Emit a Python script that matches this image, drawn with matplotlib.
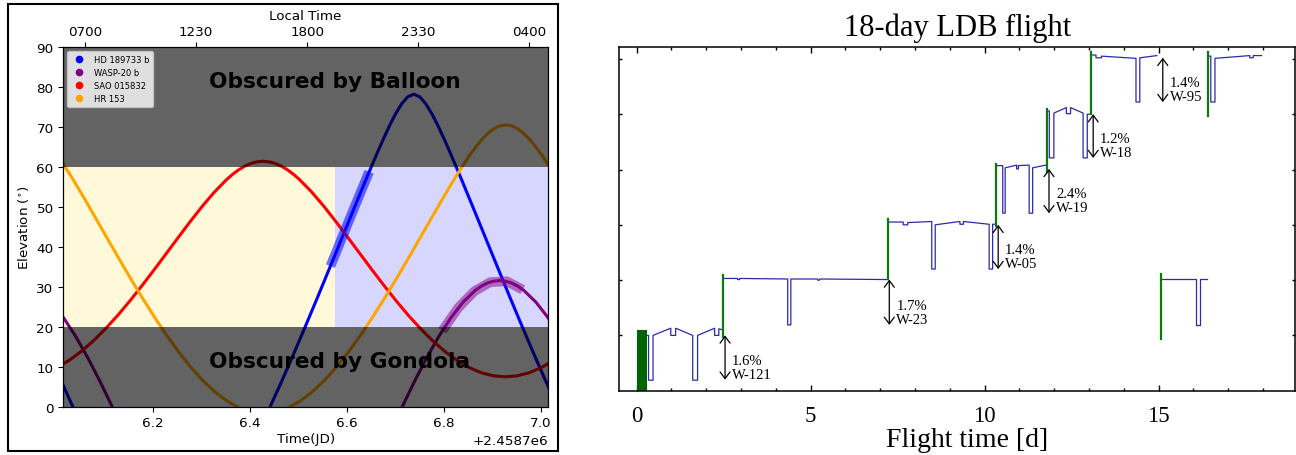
import numpy as np
import matplotlib
matplotlib.use('Agg')
import matplotlib.pyplot as plt
from matplotlib.patches import Rectangle
from matplotlib.lines import Line2D

# ======================= LEFT PANEL DATA =======================
JD0 = 2458700.0
xlim_left = (6.0147, 7.0151)          # JD - 2458700
sample_step = 0.025                    # days between read-off samples
sunset = 6.5755                        # day / night boundary (JD - 2458700)
nan = np.nan

star_names = ['HD 189733 b', 'WASP-20 b', 'SAO 015832', 'HR 153']
star_colors = ['blue', 'purple', 'red', 'orange']

hd189733_start = 5.988
hd189733_elev = [12.62, 5.71, -0.95, -7.28] + [nan] * 13 + [
    -7.28, -0.95, 5.71, 12.62, 19.73, 26.97, 34.32, 41.73, 49.14, 56.49, 63.65,
    70.36, 75.83, 78.24, 75.83, 70.36, 63.65, 56.49, 49.14, 41.73, 34.32, 26.97,
    19.73, 12.62, 5.71, -0.95]
hd189733_extra_t = [6.6505, 6.6755, 6.7005, 6.7255, 6.7505, 6.7755, 6.8005, 6.8255]
hd189733_extra_el = [60.10, 67.09, 73.33, 77.60, 77.60, 73.33, 67.09, 60.10]

wasp20_start = 5.990
wasp20_elev = [26.21, 22.33, 17.65, 12.31, 6.45, 0.18, -6.42, -13.28] + [nan] * 19 + [
    -13.28, -6.42, 0.18, 6.45, 12.31, 17.65, 22.33, 26.21, 29.14, 30.97, 31.59,
    30.97, 29.14, 26.21, 22.33, 17.65]
wasp20_extra_t = [6.8775, 6.9025, 6.9275, 6.9525]
wasp20_extra_el = [30.20, 31.43, 31.43, 30.20]

sao015832_start = 6.002
sao015832_elev = [9.83, 11.63, 13.86, 16.52, 19.54, 22.86, 26.47, 30.29, 34.25,
                  38.32, 42.39, 46.41, 50.26, 53.81, 56.91, 59.35, 60.93, 61.47,
                  60.93, 59.35, 56.91, 53.81, 50.26, 46.41, 42.39, 38.32, 34.25,
                  30.29, 26.47, 22.86, 19.54, 16.52, 13.86, 11.63, 9.83, 8.53,
                  7.74, 7.47, 7.74, 8.53, 9.83, 11.63]
sao015832_extra_t = [6.3645, 6.3895, 6.4145, 6.4395, 6.4645, 6.4895]
sao015832_extra_el = [58.23, 60.26, 61.32, 61.32, 60.26, 58.23]

hr153_start = 6.003
hr153_elev = [62.88, 58.25, 53.21, 47.97, 42.67, 37.40, 32.22, 27.21, 22.41, 17.88,
              13.69, 9.88, 6.52, 3.68, 1.39, -0.28, -1.30, -1.64, -1.30, -0.28,
              1.39, 3.68, 6.52, 9.88, 13.69, 17.88, 22.41, 27.21, 32.22, 37.40,
              42.67, 47.97, 53.21, 58.25, 62.88, 66.84, 69.57, 70.57, 69.57, 66.84,
              62.88, 58.25]
hr153_extra_t = [6.8655, 6.8905, 6.9155, 6.9405, 6.9655, 6.9905]
hr153_extra_el = [64.97, 68.38, 70.32, 70.32, 68.38, 64.97]

hd_transit_t = [6.566, 6.586, 6.606, 6.626, 6.646]
hd_transit_el = [35.2, 41.15, 47.08, 52.99, 58.83]
wasp_transit_t = [6.797, 6.830, 6.863, 6.896, 6.930, 6.963]
wasp_transit_el = [19.0, 24.8, 28.9, 31.2, 31.4, 29.3]

local_tick_pos = [6.0597, 6.2889, 6.5181, 6.7473, 6.9765]
local_tick_labels = ['0700', '1230', '1800', '2330', '0400']

# ======================= RIGHT PANEL DATA =======================
first_green = (0.0, 0.30, 1.10)   # start, end, height
green_x = [2.47, 7.21, 10.34, 11.78, 13.05, 15.06, 16.42]
green_lo = [0.97, 2.02, 2.98, 3.96, 5.00, 0.93, 4.96]
green_hi = [2.09, 3.10, 4.10, 5.10, 6.12, 2.11, 6.12]

seg_times = [
    [0.30, 0.34, 0.34, 0.47, 0.47, 0.98, 0.98, 1.12, 1.12, 1.61, 1.61, 1.75, 1.75,
     2.24, 2.24, 2.36, 2.36, 2.47],
    [2.49, 2.90, 2.90, 2.96, 2.96, 4.34, 4.34, 4.43, 4.43, 5.20, 5.20, 5.26, 5.26, 7.21],
    [7.23, 7.66, 7.66, 7.79, 7.79, 8.48, 8.48, 8.58, 8.58, 9.29, 9.29, 9.39, 9.39,
     10.13, 10.13, 10.23, 10.23, 10.32],
    [10.36, 10.52, 10.52, 10.59, 10.59, 10.92, 10.92, 10.97, 10.97, 11.28, 11.28,
     11.38, 11.38, 11.76],
    [11.80, 11.86, 11.86, 11.99, 11.99, 12.35, 12.35, 12.47, 12.47, 12.83, 12.83,
     12.95, 12.95, 13.03],
    [13.08, 13.20, 13.20, 13.36, 13.36, 14.35, 14.35, 14.46, 14.46, 14.95],
    [16.45, 16.50, 16.50, 16.62, 16.62, 17.62, 17.62, 17.72, 17.72, 17.96],
    [15.09, 16.07, 16.07, 16.19, 16.19, 16.38],
]
seg_flux = [
    [1.00, 1.00, 0.19, 0.19, 1.00, 1.13, 1.00, 1.00, 1.13, 1.00, 0.19, 0.19, 1.00,
     1.13, 1.00, 1.00, 1.12, 1.10],
    [2.03, 2.03, 2.01, 2.01, 2.03, 2.02, 1.19, 1.19, 2.02, 2.02, 2.00, 2.00, 2.02, 2.01],
    [3.05, 3.05, 3.00, 3.00, 3.04, 3.06, 2.20, 2.20, 3.00, 3.06, 3.01, 3.01, 3.06,
     3.01, 2.20, 2.20, 3.01, 3.01],
    [4.07, 4.07, 3.21, 3.21, 4.03, 4.08, 4.01, 4.01, 4.07, 4.08, 3.21, 3.21, 4.03, 4.08],
    [5.06, 5.06, 4.21, 4.21, 5.02, 5.12, 5.01, 5.01, 5.12, 5.02, 4.21, 4.21, 5.00, 5.00],
    [6.07, 6.07, 6.02, 6.02, 6.05, 6.01, 5.22, 5.22, 6.02, 6.06],
    [6.05, 6.05, 5.22, 5.22, 6.01, 6.06, 6.02, 6.02, 6.06, 6.06],
    [2.02, 2.02, 1.19, 1.19, 2.02, 2.02],
]

arrow_x = [2.54, 7.26, 10.39, 11.85, 13.12, 15.12]
arrow_top = [1.00, 2.01, 3.00, 4.01, 5.00, 6.02]
arrow_bottom = [0.20, 1.19, 2.20, 3.21, 4.21, 5.22]
depth_labels = ['1.6%', '1.7%', '1.4%', '2.4%', '1.2%', '1.4%']
planet_labels = ['W-121', 'W-23', 'W-05', 'W-19', 'W-18', 'W-95']

# ======================= FIGURE =======================
fig = plt.figure(figsize=(12.96, 4.56), dpi=100)

# frame around the left panel
fig.add_artist(Rectangle((8 / 1296, 1 - 452 / 456), 550 / 1296, 447.5 / 456,
                         transform=fig.transFigure, fill=False, ec='black', lw=1.5))

axL = fig.add_axes([0.04884, 0.10592, 0.37400, 0.78816])
fs = 9.7

x0, x1 = JD0 + xlim_left[0], JD0 + xlim_left[1]
axL.fill_between([x0, JD0 + sunset], 20, 60, color='gold', alpha=0.15, lw=0, zorder=0)
axL.fill_between([JD0 + sunset, x1], 20, 60, color='blue', alpha=0.16, lw=0, zorder=0)

series = [(hd189733_start, hd189733_elev, hd189733_extra_t, hd189733_extra_el),
          (wasp20_start, wasp20_elev, wasp20_extra_t, wasp20_extra_el),
          (sao015832_start, sao015832_elev, sao015832_extra_t, sao015832_extra_el),
          (hr153_start, hr153_elev, hr153_extra_t, hr153_extra_el)]
for (start, elev, et, ee), col in zip(series, star_colors):
    t = start + sample_step * np.arange(len(elev))
    tt = np.concatenate([t, et])
    yy = np.concatenate([np.array(elev, float), ee])
    order = np.argsort(tt, kind='stable')
    axL.plot(JD0 + tt[order], yy[order], color=col, lw=2.2, zorder=2)

axL.plot(JD0 + np.array(hd_transit_t), hd_transit_el, color='blue', alpha=0.55,
         lw=7, solid_capstyle='butt', zorder=2.5)
axL.plot(JD0 + np.array(wasp_transit_t), wasp_transit_el, color='purple', alpha=0.5,
         lw=7, solid_capstyle='butt', zorder=2.5)

axL.axhspan(0, 20, color='black', alpha=0.61, lw=0, zorder=3)
axL.axhspan(60, 90, color='black', alpha=0.61, lw=0, zorder=3)
axL.axhline(0, color='#1f77b4', lw=1.0, zorder=3.5)

axL.text(JD0 + 6.315, 80, 'Obscured by Balloon', fontsize=15.6, fontweight='bold',
         ha='left', va='baseline', zorder=4)
axL.text(JD0 + 6.315, 10, 'Obscured by Gondola', fontsize=15.6, fontweight='bold',
         ha='left', va='baseline', zorder=4)

axL.set_xlim(x0, x1)
axL.set_ylim(0, 90)
axL.set_yticks(range(0, 91, 10))
axL.tick_params(labelsize=fs)
axL.xaxis.get_offset_text().set_fontsize(fs)
axL.set_xlabel('Time(JD)', fontsize=fs, labelpad=2)
axL.set_ylabel(r'Elevation ($^{\circ}$)', fontsize=fs)

handles = [Line2D([], [], marker='o', ls='none', color=c, ms=4.5) for c in star_colors]
leg = axL.legend(handles, star_names, loc='upper left', fontsize=6)
leg.set_zorder(5)

axT = axL.twiny()
axT.set_xlim(x0, x1)
axT.set_xticks([JD0 + v for v in local_tick_pos])
axT.set_xticklabels(local_tick_labels)
axT.tick_params(labelsize=fs)
axT.set_xlabel('Local Time', fontsize=fs)

# ---------------- right panel ----------------
serif = 'Liberation Serif'
axR = fig.add_axes([0.47785, 0.14101, 0.52137, 0.75307])
blue_lc = '#2b2baa'
green_c = '#0a7a0a'

axR.fill_between([first_green[0], first_green[1]], 0, first_green[2],
                 color='#006400', lw=0, zorder=2)
for gx, lo, hi in zip(green_x, green_lo, green_hi):
    axR.plot([gx, gx], [lo, hi], color=green_c, lw=1.6, zorder=3)
for t, f in zip(seg_times, seg_flux):
    axR.plot(t, f, color=blue_lc, lw=0.9, zorder=2)

for ax_, top, bot, d, p in zip(arrow_x, arrow_top, arrow_bottom, depth_labels, planet_labels):
    axR.annotate('', xy=(ax_, bot), xytext=(ax_, top),
                 arrowprops=dict(arrowstyle='<->,head_length=0.4,head_width=0.3',
                                 lw=0.9, color='black', shrinkA=0, shrinkB=0,
                                 mutation_scale=12))
    axR.annotate(d + '\n' + p, xy=(ax_, bot), xytext=(5, 9), textcoords='offset points',
                 ha='left', va='center', fontsize=10.5, family=serif, linespacing=1.1)

axR.set_xlim(-0.5, 18.92)
axR.set_ylim(0, 6.21)
axR.set_xticks([0, 5, 10, 15])
axR.set_xticklabels(['0', '5', '10', '15'], fontfamily=serif, fontsize=16.5)
axR.set_xticks(np.arange(0, 19, 1), minor=True)
axR.set_yticks([1, 2, 3, 4, 5, 6])
axR.set_yticklabels([])
axR.tick_params(which='both', direction='in', top=True, right=True, width=1)
axR.tick_params(which='major', axis='x', length=4.5, pad=10)
axR.tick_params(which='minor', axis='x', length=2.5)
axR.tick_params(axis='y', length=2.5)
for s in axR.spines.values():
    s.set_linewidth(1.1)
axR.set_xlabel('Flight time [d]', fontsize=20, family=serif)
axR.xaxis.set_label_coords(0.5146, -0.142, transform=axR.transAxes)
axR.xaxis.label.set_va('center')
axR.set_title('18-day LDB flight', fontsize=22, family=serif, pad=9)

fig.savefig('out.png', dpi=100)
